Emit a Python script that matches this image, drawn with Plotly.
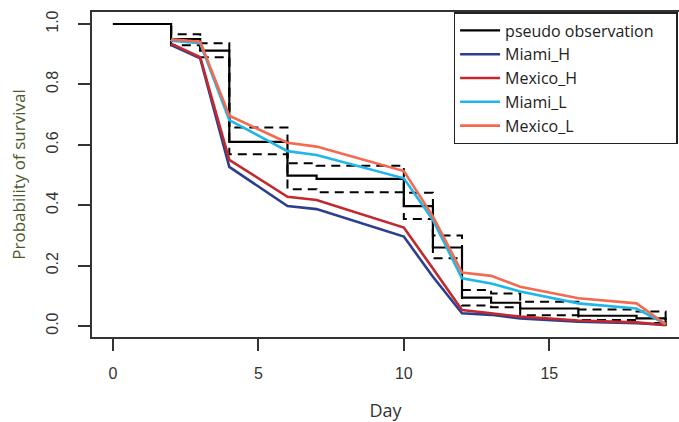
import plotly.graph_objects as go

# Pseudo observation (Kaplan-Meier style steps) with confidence bands
obs_days = [0, 2, 3, 4, 6, 7, 10, 11, 12, 13, 14, 16, 18, 19]
obs_surv = [1.0, 0.95, 0.912, 0.61, 0.498, 0.487, 0.397, 0.26, 0.094, 0.077, 0.058, 0.034, 0.025, 0.0]
obs_upper = [1.0, 0.966, 0.936, 0.657, 0.539, 0.531, 0.441, 0.30, 0.119, 0.108, 0.080, 0.055, 0.048, 0.0]
obs_lower = [1.0, 0.93, 0.89, 0.569, 0.453, 0.443, 0.354, 0.224, 0.068, 0.062, 0.036, 0.020, 0.010, 0.0]

# Model predictions
model_days = [2, 3, 4, 6, 7, 10, 11, 12, 13, 14, 16, 18, 19]
miami_h = [0.93, 0.886, 0.527, 0.397, 0.387, 0.296, 0.163, 0.042, 0.037, 0.025, 0.014, 0.009, 0.004]
mexico_h = [0.935, 0.89, 0.55, 0.428, 0.417, 0.326, 0.19, 0.053, 0.042, 0.031, 0.018, 0.012, 0.003]
miami_l = [0.945, 0.936, 0.682, 0.579, 0.566, 0.489, 0.351, 0.158, 0.141, 0.114, 0.075, 0.058, 0.006]
mexico_l = [0.949, 0.941, 0.696, 0.607, 0.594, 0.513, 0.363, 0.177, 0.166, 0.13, 0.092, 0.075, 0.006]

x_ticks = [0, 5, 10, 15]
y_ticks = [0.0, 0.2, 0.4, 0.6, 0.8, 1.0]
y_tick_labels = ["0.0", "0.2", "0.4", "0.6", "0.8", "1.0"]

fig = go.Figure()

for band in (obs_upper, obs_lower):
    fig.add_trace(go.Scatter(x=obs_days, y=band, mode="lines", line_shape="hv",
                             line=dict(color="black", width=2, dash="9px,6px"),
                             showlegend=False, hoverinfo="skip"))

fig.add_trace(go.Scatter(x=obs_days, y=obs_surv, mode="lines", line_shape="hv",
                         line=dict(color="black", width=2.2),
                         name="pseudo observation\u00a0\u00a0\u00a0\u00a0"))

series = [
    ("Miami_H", miami_h, "#2c3f8f"),
    ("Mexico_H", mexico_h, "#c2292e"),
    ("Miami_L", miami_l, "#1fb6e8"),
    ("Mexico_L", mexico_l, "#f36a50"),
]
for name, vals, col in series:
    fig.add_trace(go.Scatter(x=model_days, y=vals, mode="lines",
                             line=dict(color=col, width=2.6), name=name))

fig.update_layout(
    width=679, height=422,
    margin=dict(l=92, r=0, t=12, b=85),
    plot_bgcolor="white", paper_bgcolor="white",
    font=dict(family="Liberation Sans", size=16, color="#333333"),
    legend=dict(x=0.616, y=1.0, xanchor="left", yanchor="top",
                bordercolor="#222222", borderwidth=1.5, bgcolor="white",
                font=dict(family="Open Sans", size=16, color="#222222"),
                tracegroupgap=0, itemwidth=40),
    showlegend=True,
)
fig.update_xaxes(range=[-0.72, 19.46], tickvals=x_ticks, ticks="outside", ticklen=12,
                 tickwidth=1.5, tickcolor="#333333", showgrid=False, zeroline=False,
                 showline=True, linecolor="#333333", linewidth=1.5, mirror=True,
                 ticklabelstandoff=9, automargin=False,
                 title=dict(text="Day", font=dict(family="Open Sans", size=18, color="#333333"),
                            standoff=23))
fig.update_yaxes(range=[-0.0364, 1.0397], tickvals=y_ticks, ticktext=y_tick_labels,
                 tickangle=-90, ticks="outside", ticklen=12, tickwidth=1.5,
                 tickcolor="#333333", showgrid=False, zeroline=False,
                 showline=True, linecolor="#333333", linewidth=1.5,
                 ticklabelstandoff=14, automargin=False,
                 title=dict(text="Probability of survival",
                            font=dict(family="Open Sans", size=17, color="#4a5a2c"),
                            standoff=14))

fig.write_html("out.html", config={"displayModeBar": False},
               post_script="document.body.style.margin='0';document.body.style.overflow='hidden';")
